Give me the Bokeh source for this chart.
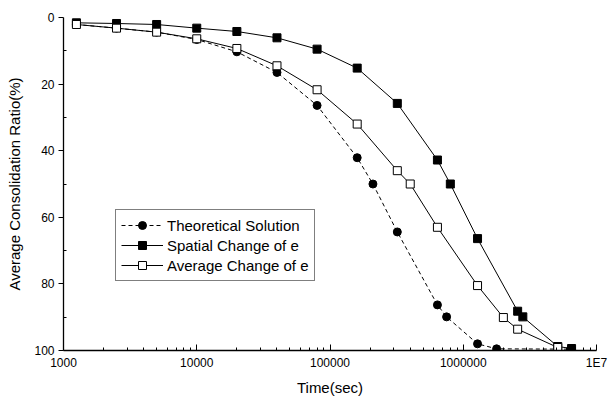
from bokeh.plotting import figure
from bokeh.models import Range1d, FixedTicker, Legend, LegendItem
from bokeh.embed import file_html
from bokeh.resources import INLINE

# ---- data ----
theo_t = [1250, 2500, 5000, 10000, 20000, 40000, 80000, 160000, 210000, 320000,
          640000, 750000, 1280000, 1780000, 6500000]
theo_u = [2.1, 3.2, 4.4, 6.6, 10.3, 16.5, 26.4, 42.1, 50.0, 64.4,
          86.3, 89.9, 98.0, 99.5, 99.6]

spatial_t = [1250, 2500, 5000, 10000, 20000, 40000, 80000, 160000, 320000, 640000,
             800000, 1280000, 2560000, 2800000, 5120000, 6500000]
spatial_u = [1.6, 1.8, 2.1, 3.2, 4.2, 6.1, 9.5, 15.2, 25.8, 42.8,
             50.0, 66.4, 88.2, 89.9, 98.8, 99.4]

avg_t = [1250, 2500, 5000, 10000, 20000, 40000, 80000, 160000, 320000, 400000,
         640000, 1280000, 2000000, 2560000, 5120000]
avg_u = [2.1, 3.2, 4.4, 6.4, 9.3, 14.5, 21.7, 32.0, 46.0, 50.0,
         63.0, 80.5, 90.1, 93.6, 99.1]

x_ticks = [1000, 10000, 100000, 1000000, 10000000]
x_tick_labels = ["1000", "10000", "100000", "1000000", "1E7"]
y_ticks = [0, 20, 40, 60, 80, 100]
y_minor = [10, 30, 50, 70, 90]

labels = ["Theoretical Solution", "Spatial Change of e", "Average Change of e"]

FONT = "Liberation Sans"

p = figure(width=612, height=398, x_axis_type="log", output_backend="svg",
           toolbar_location=None,
           x_range=Range1d(1000, 1e7), y_range=Range1d(100, 0),
           min_border_left=63, min_border_right=16, min_border_top=17,
           min_border_bottom=44)
p.outline_line_color = None
p.xgrid.grid_line_color = None
p.ygrid.grid_line_color = None
p.background_fill_color = "white"
p.border_fill_color = "white"

# x axis
minor_x = [m * d for d in [1000, 10000, 100000, 1000000] for m in range(2, 10)]
p.xaxis.ticker = FixedTicker(ticks=x_ticks, minor_ticks=minor_x)
p.xaxis.major_label_overrides = {t: l for t, l in zip(x_ticks, x_tick_labels)}
p.xaxis.major_tick_in = 6
p.xaxis.major_tick_out = 0
p.xaxis.minor_tick_in = 3
p.xaxis.minor_tick_out = 0
p.xaxis.axis_label = "Time(sec)"

# y axis
p.yaxis.ticker = FixedTicker(ticks=y_ticks, minor_ticks=y_minor)
p.yaxis.major_tick_in = 0
p.yaxis.major_tick_out = 5
p.yaxis.minor_tick_in = 3
p.yaxis.minor_tick_out = 0
p.yaxis.axis_label = "Average Consolidation Ratio(%)"

for ax in [p.xaxis[0], p.yaxis[0]]:
    ax.axis_line_color = "black"
    ax.axis_line_width = 1.3
    ax.major_tick_line_color = "black"
    ax.minor_tick_line_color = "black"
    ax.major_label_text_font = FONT
    ax.major_label_text_font_size = "12px"
    ax.major_label_text_color = "black"
    ax.axis_label_text_font = FONT
    ax.axis_label_text_font_size = "15px"
    ax.axis_label_text_font_style = "normal"
    ax.axis_label_text_color = "black"
p.xaxis.major_label_standoff = 5
p.xaxis.axis_label_standoff = 6
p.yaxis.major_label_standoff = 4
p.yaxis.axis_label_standoff = 8

# series
l1 = p.line(theo_t, theo_u, line_color="black", line_width=1, line_dash="4 3")
s1 = p.scatter(theo_t, theo_u, marker="circle", size=8, fill_color="black", line_color="black")
l2 = p.line(spatial_t, spatial_u, line_color="black", line_width=1)
s2 = p.scatter(spatial_t, spatial_u, marker="square", size=8, fill_color="black", line_color="black")
l3 = p.line(avg_t, avg_u, line_color="black", line_width=1)
s3 = p.scatter(avg_t, avg_u, marker="square", size=8, fill_color="white", line_color="black")

legend = Legend(items=[
    LegendItem(label=labels[0], renderers=[l1, s1]),
    LegendItem(label=labels[1], renderers=[l2, s2]),
    LegendItem(label=labels[2], renderers=[l3, s3]),
], location=(52, 69))
legend.border_line_color = "black"
legend.border_line_width = 1
legend.background_fill_color = "white"
legend.background_fill_alpha = 1
legend.label_text_font = FONT
legend.label_text_font_size = "15px"
legend.label_text_color = "black"
legend.glyph_width = 42
legend.glyph_height = 20
legend.label_height = 20
legend.spacing = 0
legend.padding = 5
legend.margin = 0
legend.label_standoff = 4
p.add_layout(legend, "center")

open("out.html", "w").write(file_html(p, INLINE))
